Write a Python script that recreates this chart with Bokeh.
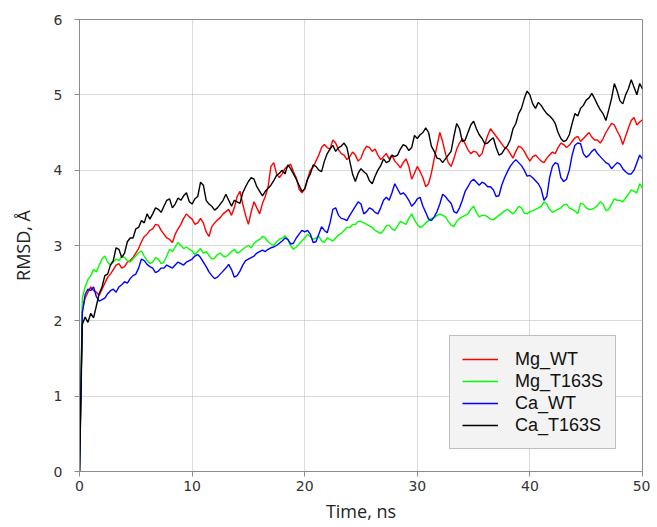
import numpy as np
from bokeh.plotting import figure
from bokeh.models import Range1d, FixedTicker
from bokeh.embed import file_html
from bokeh.resources import INLINE

# sample times (ns), one sample every 0.25 ns
time_ns = np.arange(201) * 0.25

series_names = ["Mg_WT", "Mg_T163S", "Ca_WT", "Ca_T163S"]
series_colors = ["#ff0000", "#00ff00", "#0000ff", "#000000"]

mg_wt = [0,
 2.15, 2.3, 2.38, 2.45, 2.4, 2.38, 2.34, 2.42, 2.5, 2.58, 2.62, 2.68, 2.74, 2.76, 2.7, 2.72, 2.78, 2.8, 2.84, 2.9,
 2.96, 3.05, 3.12, 3.15, 3.2, 3.22, 3.28, 3.27, 3.2, 3.15, 3.1, 3.08, 3.04, 3.15, 3.22, 3.28, 3.36, 3.42, 3.38, 3.35,
 3.28, 3.3, 3.36, 3.3, 3.18, 3.12, 3.25, 3.3, 3.34, 3.37, 3.42, 3.45, 3.48, 3.4, 3.5, 3.65, 3.72, 3.55, 3.4, 3.28,
 3.45, 3.58, 3.5, 3.42, 3.56, 3.65, 3.78, 4.05, 4.1, 3.95, 3.9, 3.95, 4.02, 4.05, 4.08, 3.98, 3.9, 3.75, 3.7, 3.75,
 3.88, 4.0, 4.04, 4.12, 4.2, 4.3, 4.34, 4.3, 4.28, 4.4, 4.36, 4.27, 4.22, 4.2, 4.14, 4.18, 4.24, 4.2, 4.12, 4.16,
 4.26, 4.32, 4.3, 4.25, 4.28, 4.2, 4.14, 4.18, 4.22, 4.15, 4.2, 4.12, 4.08, 4.03, 4.1, 4.15, 4.05, 3.88, 3.96, 4.05,
 3.98, 3.9, 3.78, 3.82, 3.96, 4.15, 4.32, 4.5, 4.38, 4.22, 4.1, 4.05, 4.15, 4.28, 4.36, 4.42, 4.35, 4.27, 4.22, 4.25,
 4.24, 4.18, 4.22, 4.35, 4.46, 4.55, 4.5, 4.45, 4.4, 4.35, 4.3, 4.28, 4.22, 4.16, 4.25, 4.32, 4.3, 4.25, 4.18, 4.12,
 4.18, 4.2, 4.16, 4.12, 4.1, 4.16, 4.2, 4.24, 4.22, 4.3, 4.36, 4.34, 4.3, 4.33, 4.38, 4.43, 4.45, 4.38, 4.42, 4.46,
 4.5, 4.44, 4.4, 4.4, 4.36, 4.42, 4.5, 4.56, 4.62, 4.6, 4.52, 4.45, 4.34, 4.45, 4.56, 4.66, 4.7, 4.6, 4.64, 4.67]

mg_t163s = [0,
 2.3, 2.45, 2.55, 2.6, 2.68, 2.65, 2.74, 2.82, 2.86, 2.78, 2.74, 2.78, 2.82, 2.8, 2.86, 2.84, 2.8, 2.78, 2.82, 2.86,
 2.9, 2.93, 2.86, 2.8, 2.76, 2.78, 2.84, 2.82, 2.76, 2.78, 2.86, 2.95, 2.92, 2.98, 3.04, 3.0, 2.96, 2.98, 2.95, 2.93,
 2.88, 2.92, 2.96, 2.9, 2.92, 2.87, 2.82, 2.83, 2.88, 2.9, 2.86, 2.85, 2.88, 2.92, 2.95, 2.9, 2.92, 2.95, 2.98, 3.0,
 2.97, 3.03, 3.06, 3.08, 3.12, 3.1, 3.05, 3.02, 3.0, 3.05, 3.08, 3.1, 3.13, 3.08, 3.0, 2.95, 2.98, 3.02, 3.06, 3.1,
 3.15, 3.12, 3.08, 3.1, 3.12, 3.06, 3.04, 3.1, 3.08, 3.06, 3.1, 3.14, 3.16, 3.2, 3.24, 3.24, 3.28, 3.28, 3.32, 3.32,
 3.3, 3.28, 3.26, 3.24, 3.2, 3.18, 3.16, 3.2, 3.26, 3.27, 3.22, 3.2, 3.26, 3.32, 3.3, 3.28, 3.36, 3.42, 3.34, 3.28,
 3.24, 3.26, 3.3, 3.33, 3.36, 3.37, 3.4, 3.42, 3.4, 3.38, 3.32, 3.27, 3.25, 3.32, 3.36, 3.38, 3.4, 3.42, 3.48, 3.52,
 3.44, 3.38, 3.4, 3.4, 3.38, 3.35, 3.34, 3.37, 3.4, 3.43, 3.46, 3.48, 3.45, 3.42, 3.46, 3.52, 3.5, 3.43, 3.42, 3.45,
 3.46, 3.48, 3.5, 3.52, 3.58, 3.55, 3.48, 3.44, 3.46, 3.48, 3.5, 3.54, 3.55, 3.5, 3.48, 3.46, 3.42, 3.56, 3.55, 3.5,
 3.48, 3.48, 3.5, 3.53, 3.58, 3.55, 3.46, 3.48, 3.55, 3.62, 3.6, 3.6, 3.58, 3.63, 3.68, 3.74, 3.72, 3.7, 3.82, 3.76]

ca_wt = [0,
 2.1, 2.35, 2.42, 2.4, 2.45, 2.32, 2.26, 2.28, 2.3, 2.36, 2.4, 2.42, 2.38, 2.45, 2.48, 2.52, 2.5, 2.56, 2.6, 2.62,
 2.7, 2.82, 2.8, 2.75, 2.72, 2.7, 2.64, 2.66, 2.7, 2.7, 2.74, 2.72, 2.7, 2.74, 2.78, 2.76, 2.74, 2.78, 2.8, 2.82,
 2.86, 2.88, 2.84, 2.78, 2.72, 2.65, 2.6, 2.56, 2.58, 2.62, 2.66, 2.7, 2.75, 2.68, 2.58, 2.6, 2.66, 2.74, 2.8, 2.82,
 2.84, 2.86, 2.9, 2.92, 2.94, 2.92, 2.95, 2.97, 2.98, 3.0, 3.03, 3.06, 3.1, 3.08, 3.02, 3.03, 3.1, 3.15, 3.2, 3.18,
 3.2, 3.15, 3.04, 3.05, 3.15, 3.25, 3.2, 3.17, 3.3, 3.48, 3.5, 3.4, 3.36, 3.35, 3.33, 3.4, 3.46, 3.52, 3.58, 3.55,
 3.42, 3.45, 3.5, 3.48, 3.44, 3.42, 3.5, 3.6, 3.64, 3.6, 3.7, 3.82, 3.75, 3.68, 3.7, 3.66, 3.6, 3.52, 3.56, 3.62,
 3.64, 3.52, 3.44, 3.35, 3.33, 3.38, 3.45, 3.55, 3.68, 3.65, 3.6, 3.56, 3.45, 3.43, 3.5, 3.6, 3.72, 3.78, 3.85, 3.88,
 3.84, 3.8, 3.84, 3.82, 3.78, 3.78, 3.74, 3.65, 3.66, 3.8, 3.9, 3.98, 4.05, 4.1, 4.14, 4.1, 4.06, 4.0, 3.92, 3.93,
 3.9, 3.86, 3.82, 3.75, 3.6, 3.65, 3.9, 4.05, 4.1, 4.08, 3.9, 3.85, 3.88, 4.0, 4.2, 4.33, 4.36, 4.35, 4.22, 4.17,
 4.2, 4.25, 4.28, 4.22, 4.18, 4.14, 4.1, 4.08, 4.02, 4.06, 4.1, 4.08, 4.02, 3.98, 3.95, 3.95, 4.0, 4.1, 4.2, 4.15]

ca_t163s = [0,
 1.95, 2.05, 1.98, 2.1, 2.04, 2.2, 2.36, 2.45, 2.6, 2.62, 2.74, 2.8, 2.97, 2.95, 2.84, 2.9, 3.05, 3.1, 3.1, 3.22,
 3.24, 3.33, 3.3, 3.42, 3.35, 3.42, 3.5, 3.48, 3.44, 3.52, 3.6, 3.62, 3.5, 3.55, 3.63, 3.6, 3.66, 3.7, 3.58, 3.55,
 3.62, 3.65, 3.84, 3.8, 3.6, 3.55, 3.52, 3.47, 3.5, 3.55, 3.6, 3.68, 3.6, 3.52, 3.6, 3.58, 3.56, 3.7, 3.78, 3.85,
 3.9, 3.88, 3.78, 3.72, 3.66, 3.72, 3.76, 3.8, 3.86, 3.93, 3.96, 4.0, 3.95, 4.07, 4.02, 3.95, 3.88, 3.8, 3.72, 3.75,
 3.88, 3.95, 4.07, 4.05, 4.0, 3.98, 4.12, 4.22, 4.28, 4.33, 4.25, 4.3, 4.32, 4.36, 4.3, 4.12, 3.95, 3.85, 3.96, 4.02,
 3.98, 3.95, 3.86, 3.82, 3.92, 4.0, 4.06, 4.15, 4.1, 4.12, 4.2, 4.18, 4.2, 4.28, 4.34, 4.32, 4.26, 4.3, 4.46, 4.42,
 4.47, 4.5, 4.56, 4.5, 4.32, 4.25, 4.16, 4.15, 4.1, 4.15, 4.2, 4.25, 4.45, 4.62, 4.55, 4.38, 4.4, 4.5, 4.6, 4.65,
 4.55, 4.47, 4.42, 4.35, 4.36, 4.4, 4.43, 4.3, 4.2, 4.22, 4.28, 4.32, 4.4, 4.55, 4.62, 4.75, 4.82, 4.95, 5.05, 5.0,
 4.88, 4.82, 4.9, 4.86, 4.8, 4.75, 4.72, 4.68, 4.62, 4.5, 4.42, 4.38, 4.4, 4.47, 4.62, 4.75, 4.72, 4.82, 4.86, 4.93,
 4.96, 5.02, 4.95, 4.87, 4.8, 4.75, 4.66, 4.8, 4.95, 5.15, 5.05, 4.92, 4.88, 5.0, 5.08, 5.2, 5.1, 5.0, 5.15, 5.08]

x_ticks = [0, 10, 20, 30, 40, 50]
y_ticks = [0, 1, 2, 3, 4, 5, 6]

p = figure(width=650, height=527, output_backend="svg", toolbar_location=None,
           x_range=Range1d(0, 50), y_range=Range1d(0, 6),
           min_border_left=79, min_border_right=8, min_border_top=19, min_border_bottom=56)
p.background_fill_color = "white"
p.border_fill_color = "white"
p.outline_line_color = "#8c8c8c"
p.outline_line_width = 1

for vals, name, col in zip([mg_wt, mg_t163s, ca_wt, ca_t163s], series_names, series_colors):
    p.line(time_ns, vals, color=col, line_width=1.4, legend_label=name)

p.xaxis.ticker = FixedTicker(ticks=x_ticks)
p.yaxis.ticker = FixedTicker(ticks=y_ticks)
for ax in (p.xaxis[0], p.yaxis[0]):
    ax.axis_line_color = "#8c8c8c"
    ax.major_tick_line_color = "#8c8c8c"
    ax.major_tick_out = 5
    ax.major_tick_in = 0
    ax.minor_tick_line_color = None
    ax.major_label_text_font = "DejaVu Sans"
    ax.major_label_text_font_size = "14px"
    ax.major_label_text_color = "#333333"
    ax.axis_label_text_font = "Open Sans"
    ax.axis_label_text_font_size = "18px"
    ax.axis_label_text_font_style = "normal"
    ax.axis_label_text_color = "#222222"
p.xaxis.axis_label = "Time, ns"
p.yaxis.axis_label = "RMSD, Å"
p.xaxis.major_label_standoff = 4
p.yaxis.major_label_standoff = 12
p.xaxis.axis_label_standoff = 5
p.yaxis.axis_label_standoff = 16

for g in (p.xgrid[0], p.ygrid[0]):
    g.grid_line_color = "#b4b4b4"
    g.grid_line_dash = "1 1"
    g.grid_line_width = 1

lg = p.legend[0]
lg.location = (370, 22)
lg.background_fill_color = "#f3f3f3"
lg.background_fill_alpha = 1
lg.border_line_color = "#8c8c8c"
lg.border_line_width = 1
lg.label_text_font = "Liberation Sans"
lg.label_text_font_size = "18px"
lg.label_text_color = "#111111"
lg.glyph_width = 36
lg.label_standoff = 17
lg.label_width = 88
lg.padding = 12
lg.spacing = 0
lg.label_height = 22
lg.glyph_height = 22
lg.margin = 0

open("out.html", "w").write(file_html(p, INLINE))
